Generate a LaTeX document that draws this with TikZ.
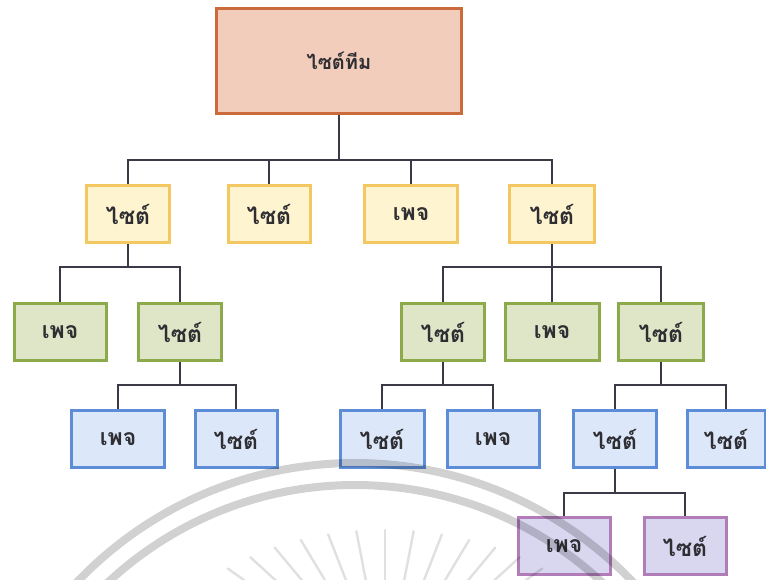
\documentclass[tikz,border=0pt]{standalone}
\usepackage{fontspec}
\newfontfamily\thaifont[Script=Thai]{Loma}
\definecolor{txt}{HTML}{2E2E33}
\definecolor{conncol}{HTML}{3A3A46}
\definecolor{rootfill}{HTML}{F3CDBB}\definecolor{rootline}{HTML}{CB6A3A}
\definecolor{yelfill}{HTML}{FEF4CF}\definecolor{yelline}{HTML}{F4C861}
\definecolor{grnfill}{HTML}{DFE6C8}\definecolor{grnline}{HTML}{8DAA4A}
\definecolor{blufill}{HTML}{DCE8FA}\definecolor{bluline}{HTML}{5C8DD6}
\definecolor{purfill}{HTML}{D9D6F0}\definecolor{purline}{HTML}{B07DB8}
\begin{document}
\begin{tikzpicture}[x=1pt,y=-1pt,
  box/.style={draw, line width=3pt, minimum height=57pt, inner sep=0pt,
    font=\thaifont\bfseries\fontsize{23}{26}\selectfont, text=txt},
  rootbox/.style={box, fill=rootfill, draw=rootline, minimum width=245pt, minimum height=105pt,
    font=\thaifont\bfseries\fontsize{20}{24}\selectfont},
  yel/.style={box, fill=yelfill, draw=yelline},
  grn/.style={box, fill=grnfill, draw=grnline},
  blu/.style={box, fill=blufill, draw=bluline},
  pur/.style={box, fill=purfill, draw=purline},
  conn/.style={draw=conncol, line width=2pt}]
\useasboundingbox (0,0) rectangle (766,579);
\fill[white] (0,0) rectangle (766,579);

% level 0
\node[rootbox] (root) at (339,61) {ไซต์ทีม};

% level 1
\node[yel, minimum width=83pt] (y1) at (128,214) {ไซต์};
\node[yel, minimum width=82pt] (y2) at (269,214) {ไซต์};
\node[yel, minimum width=93pt] (y3) at (411,214) {เพจ};
\node[yel, minimum width=85pt] (y4) at (552,214) {ไซต์};

% level 2
\node[grn, minimum width=92pt] (g1) at (60,332) {เพจ};
\node[grn, minimum width=83pt] (g2) at (180,332) {ไซต์};
\node[grn, minimum width=83pt] (g3) at (443,332) {ไซต์};
\node[grn, minimum width=94pt] (g4) at (552,332) {เพจ};
\node[grn, minimum width=85pt] (g5) at (661,332) {ไซต์};

% level 3
\node[blu, minimum width=93pt] (b1) at (118,439) {เพจ};
\node[blu, minimum width=82pt] (b2) at (236,439) {ไซต์};
\node[blu, minimum width=84pt] (b3) at (382,439) {ไซต์};
\node[blu, minimum width=92pt] (b4) at (493,439) {เพจ};
\node[blu, minimum width=83pt] (b5) at (615,439) {ไซต์};
\node[blu, minimum width=78pt] (b6) at (726,439) {ไซต์};

% level 4
\node[pur, minimum width=92pt] (p1) at (564,546) {เพจ};
\node[pur, minimum width=82pt] (p2) at (685,546) {ไซต์};

% connectors
\foreach \c in {y1,y2,y3,y4} \draw[conn] (root.south) -- ++(0,45) -| (\c.north);
\foreach \c in {g1,g2} \draw[conn] (y1.south) -- ++(0,23) -| (\c.north);
\foreach \c in {g3,g4,g5} \draw[conn] (y4.south) -- ++(0,23) -| (\c.north);
\foreach \c in {b1,b2} \draw[conn] (g2.south) -- ++(0,23) -| (\c.north);
\foreach \c in {b3,b4} \draw[conn] (g3.south) -- ++(0,23) -| (\c.north);
\foreach \c in {b5,b6} \draw[conn] (g5.south) -- ++(0,23) -| (\c.north);
\foreach \c in {p1,p2} \draw[conn] (b5.south) -- ++(0,24) -| (\c.north);

% faint seal printed over the lower part
\begin{scope}
  \clip (0,0) rectangle (766,579);
  \draw[black, opacity=0.18, line width=8pt] (355,847) circle (384pt);
  \draw[black, opacity=0.18, line width=8pt] (355,847) circle (362pt);
  \foreach \t in {48,55,...,134}
    \draw[black, opacity=0.12, line width=2.4pt, line cap=round]
      ({385+235*cos(\t)},{680-150*sin(\t)}) -- ({385+235*0.5*cos(\t)},{680-150*0.5*sin(\t)});
\end{scope}
\end{tikzpicture}
\end{document}
